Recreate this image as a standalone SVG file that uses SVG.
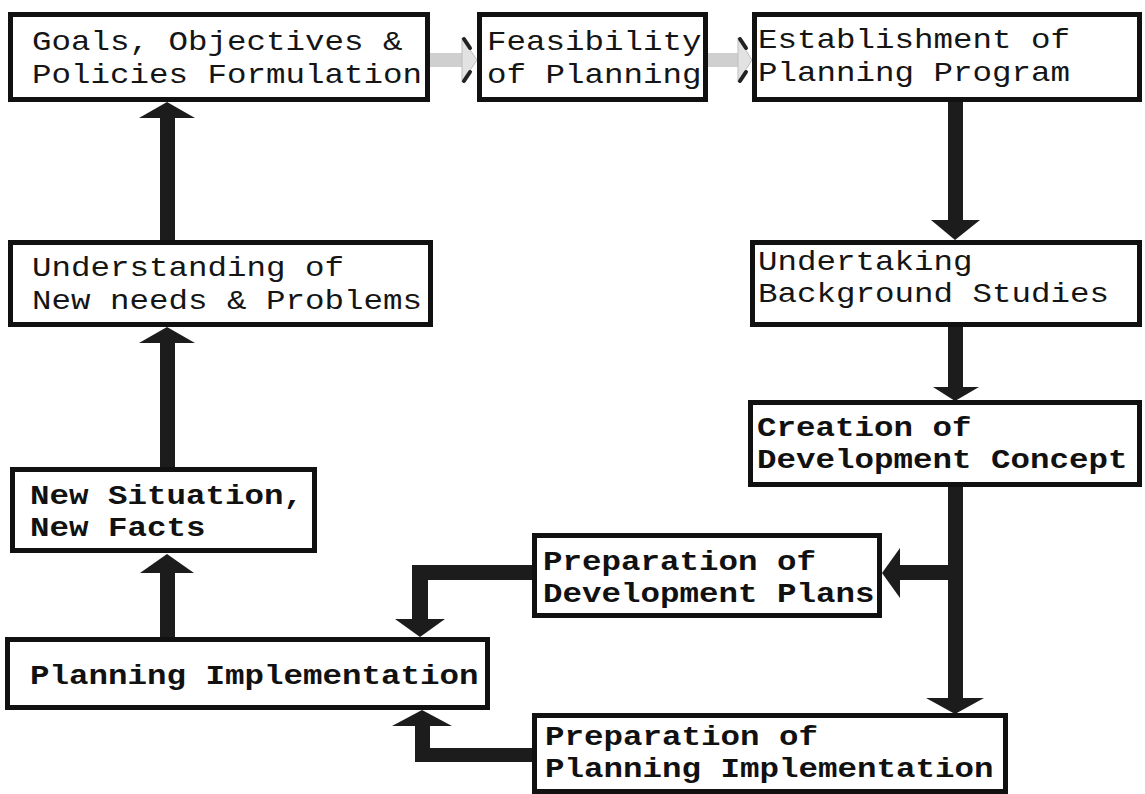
<svg xmlns="http://www.w3.org/2000/svg" width="1145" height="794" viewBox="0 0 1145 794">
<style>
  .box{fill:#fff;stroke:#111;stroke-width:5}
  .t{font-family:"Liberation Mono","DejaVu Sans Mono",monospace;font-size:28px;fill:#151515}
  .tb{font-family:"Liberation Mono","DejaVu Sans Mono",monospace;font-size:28px;font-weight:bold;fill:#111}
  .sh{fill:#1c1c1c}
  .hd{fill:#1c1c1c}
  .fsh{fill:#cfcfcf}
  .fhd{fill:#e2e2e2;stroke:#bdbdbd;stroke-width:1}
  .barb{stroke:#222;stroke-width:4;stroke-linecap:round}
</style>
<rect width="1145" height="794" fill="#fff"/>

<g id="connectors">
  <!-- faint arrow: Goals -> Feasibility -->
  <rect class="fsh" x="428" y="53" width="36" height="14"/>
  <polygon class="fhd" points="462,38 477,60 462,82"/>
  <line class="barb" x1="464" y1="39" x2="470" y2="48"/>
  <line class="barb" x1="464" y1="81" x2="470" y2="72"/>
  <!-- faint arrow: Feasibility -> Establishment -->
  <rect class="fsh" x="708" y="53" width="32" height="14"/>
  <polygon class="fhd" points="738,38 752,60 738,82"/>
  <line class="barb" x1="740" y1="39" x2="746" y2="48"/>
  <line class="barb" x1="740" y1="81" x2="746" y2="72"/>

  <!-- Establishment -> Undertaking -->
  <rect class="sh" x="948" y="100" width="15" height="122"/>
  <polygon class="hd" points="931,220 955,240 980,220"/>
  <!-- Undertaking -> Creation -->
  <rect class="sh" x="948" y="325" width="15" height="64"/>
  <polygon class="hd" points="933,387 955,401 979,387"/>
  <!-- Creation -> Prep. Planning Implementation -->
  <rect class="sh" x="948" y="485" width="15" height="215"/>
  <polygon class="hd" points="926,698 955,714 984,698"/>
  <!-- branch -> Prep. Development Plans -->
  <rect class="sh" x="898" y="565" width="57" height="15"/>
  <polygon class="hd" points="900,548 882,573 900,598"/>
  <!-- Prep. Development Plans -> Planning Implementation -->
  <polygon class="sh" points="534,565 412,565 412,622 428,622 428,580 534,580"/>
  <polygon class="hd" points="395,619 420,637 445,619"/>
  <!-- Prep. Planning Implementation -> Planning Implementation -->
  <polygon class="sh" points="534,748 534,762 415,762 415,723 430,723 430,748"/>
  <polygon class="hd" points="392,726 422,710 452,726"/>
  <!-- Planning Implementation -> New Situation -->
  <rect class="sh" x="160" y="571" width="15" height="68"/>
  <polygon class="hd" points="140,573 167,554 194,573"/>
  <!-- New Situation -> Understanding -->
  <rect class="sh" x="160" y="341" width="15" height="128"/>
  <polygon class="hd" points="139,343 167,327 195,343"/>
  <!-- Understanding -> Goals -->
  <rect class="sh" x="160" y="116" width="15" height="126"/>
  <polygon class="hd" points="139,118 167,102 195,118"/>
</g>

<g id="goals">
  <rect class="box" x="10.5" y="14.5" width="417" height="85"/>
  <text class="t" x="32" y="50" textLength="370.5" lengthAdjust="spacingAndGlyphs">Goals, Objectives &amp;</text>
  <text class="t" x="32" y="83" textLength="390" lengthAdjust="spacingAndGlyphs">Policies Formulation</text>
</g>
<g id="feasibility">
  <rect class="box" x="479.5" y="14.5" width="226" height="85"/>
  <text class="t" x="487" y="50" textLength="214.5" lengthAdjust="spacingAndGlyphs">Feasibility</text>
  <text class="t" x="487" y="83" textLength="214.5" lengthAdjust="spacingAndGlyphs">of Planning</text>
</g>
<g id="establishment">
  <rect class="box" x="754.5" y="14.5" width="385" height="85"/>
  <text class="t" x="758" y="48" textLength="312" lengthAdjust="spacingAndGlyphs">Establishment of</text>
  <text class="t" x="758" y="81" textLength="312" lengthAdjust="spacingAndGlyphs">Planning Program</text>
</g>
<g id="understanding">
  <rect class="box" x="10.5" y="242.5" width="420" height="82"/>
  <text class="t" x="32" y="276" textLength="312" lengthAdjust="spacingAndGlyphs">Understanding of</text>
  <text class="t" x="32" y="309" textLength="390" lengthAdjust="spacingAndGlyphs">New needs &amp; Problems</text>
</g>
<g id="undertaking">
  <rect class="box" x="752.5" y="242.5" width="387" height="82"/>
  <text class="t" x="758" y="270" textLength="214.5" lengthAdjust="spacingAndGlyphs">Undertaking</text>
  <text class="t" x="758" y="302" textLength="351" lengthAdjust="spacingAndGlyphs">Background Studies</text>
</g>
<g id="creation">
  <rect class="box" x="750.5" y="402.5" width="389" height="82"/>
  <text class="tb" x="757" y="436" textLength="214.5" lengthAdjust="spacingAndGlyphs">Creation of</text>
  <text class="tb" x="757" y="468" textLength="370.5" lengthAdjust="spacingAndGlyphs">Development Concept</text>
</g>
<g id="new-situation">
  <rect class="box" x="12.5" y="469.5" width="302" height="81"/>
  <text class="tb" x="30" y="504" textLength="273" lengthAdjust="spacingAndGlyphs">New Situation,</text>
  <text class="tb" x="30" y="536" textLength="175.5" lengthAdjust="spacingAndGlyphs">New Facts</text>
</g>
<g id="prep-development-plans">
  <rect class="box" x="534.5" y="535.5" width="345" height="80"/>
  <text class="tb" x="543" y="570" textLength="273" lengthAdjust="spacingAndGlyphs">Preparation of</text>
  <text class="tb" x="543" y="602" textLength="331.5" lengthAdjust="spacingAndGlyphs">Development Plans</text>
</g>
<g id="planning-implementation">
  <rect class="box" x="7.5" y="639.5" width="480" height="68"/>
  <text class="tb" x="30" y="684" textLength="448.5" lengthAdjust="spacingAndGlyphs">Planning Implementation</text>
</g>
<g id="prep-planning-implementation">
  <rect class="box" x="534.5" y="715.5" width="471" height="76"/>
  <text class="tb" x="545" y="745" textLength="273" lengthAdjust="spacingAndGlyphs">Preparation of</text>
  <text class="tb" x="545" y="777" textLength="448.5" lengthAdjust="spacingAndGlyphs">Planning Implementation</text>
</g>
</svg>
